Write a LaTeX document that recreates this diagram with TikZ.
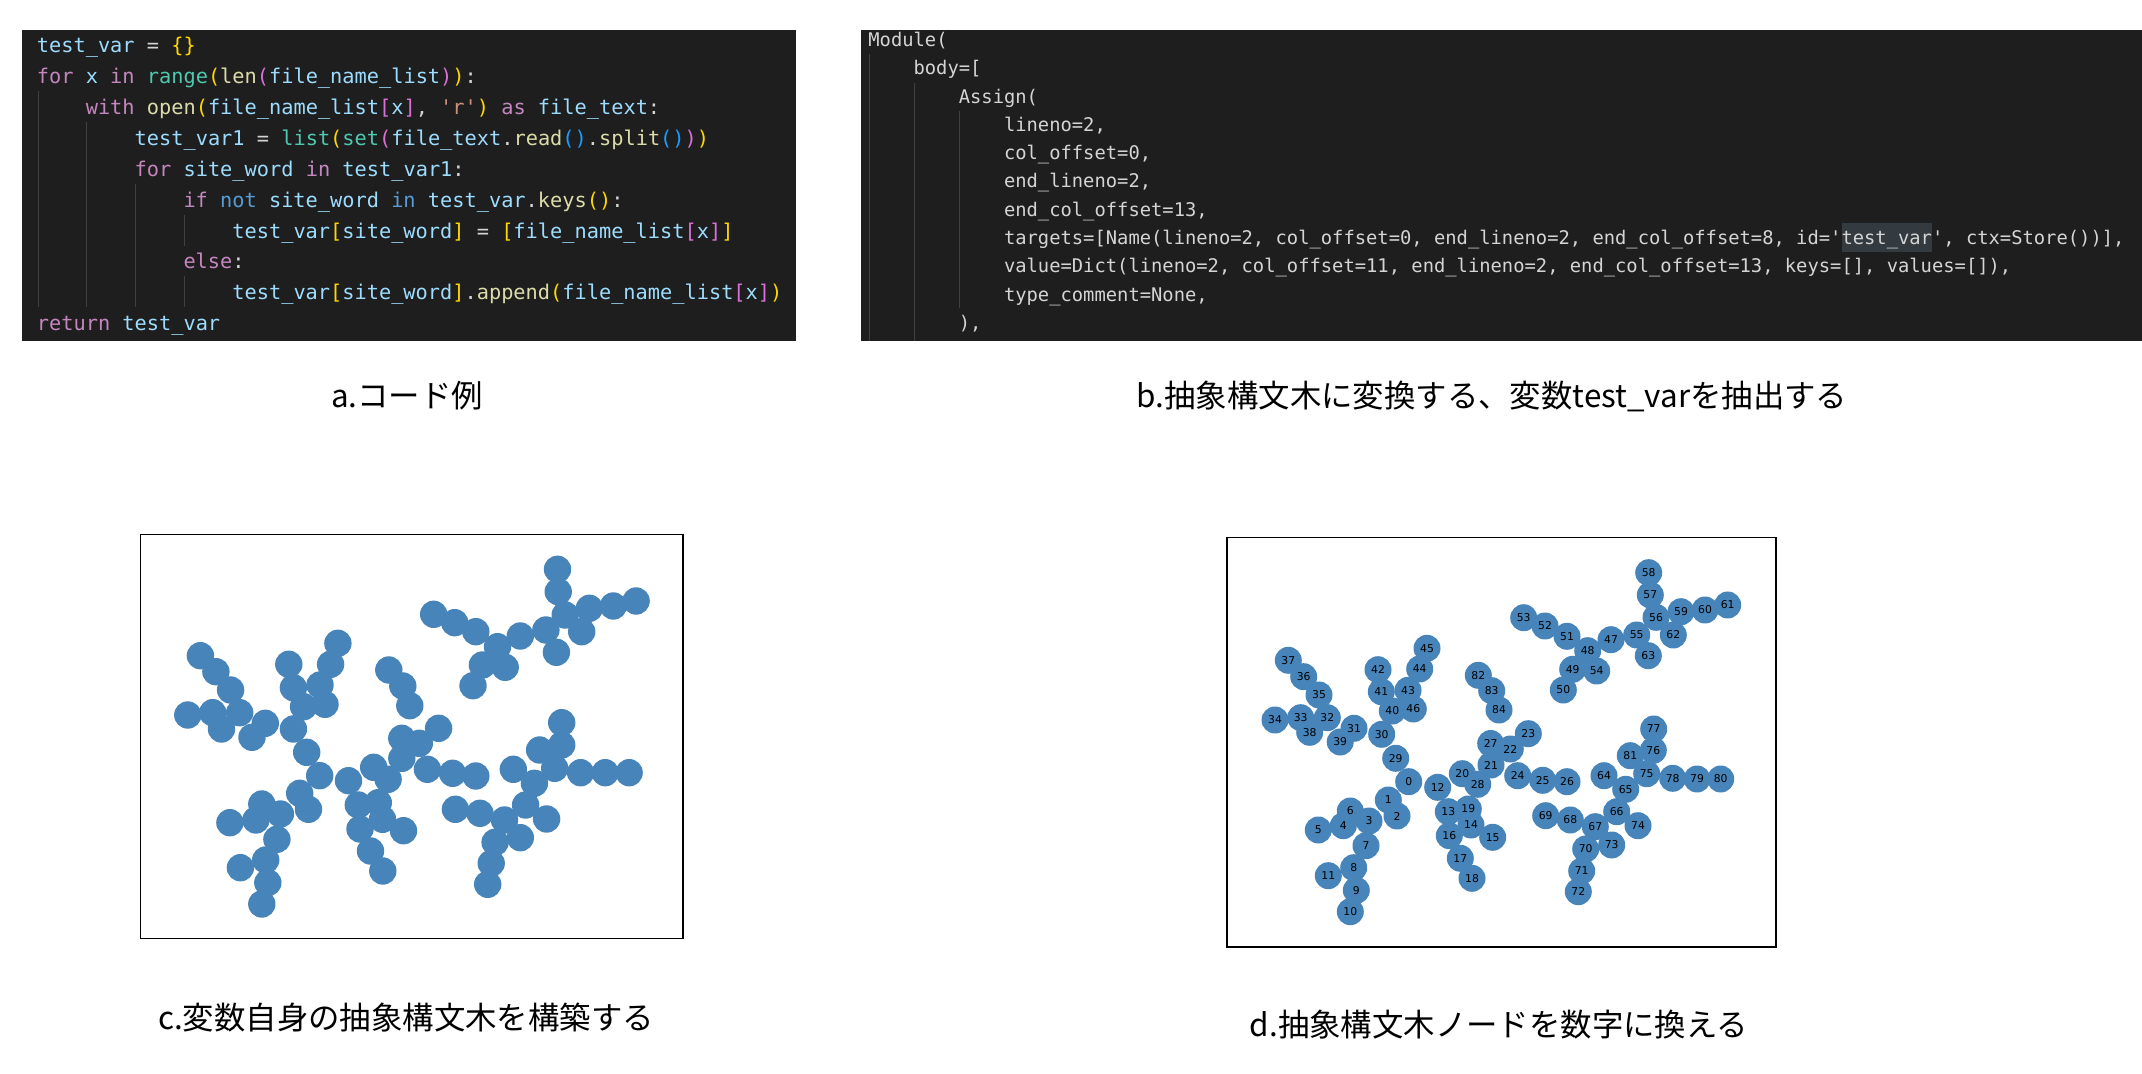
\documentclass[tikz,border=0pt]{standalone}
\usepackage{fontspec}
\setmonofont{DejaVu Sans Mono}
\newfontfamily\jpfont{Noto Sans CJK JP}
\newfontfamily\lblfont{DejaVu Sans}
\usepackage{tikz}
\usetikzlibrary{positioning}

\definecolor{codebg}{HTML}{1E1E1E}
\definecolor{codefg}{HTML}{D4D4D4}
\definecolor{colvar}{HTML}{9CDCFE}
\definecolor{colkw}{HTML}{C586C0}
\definecolor{colnot}{HTML}{569CD6}
\definecolor{colfn}{HTML}{DCDCAA}
\definecolor{colcls}{HTML}{4EC9B0}
\definecolor{colstr}{HTML}{CE9178}
\definecolor{bracketA}{HTML}{FFD700}
\definecolor{bracketB}{HTML}{DA70D6}
\definecolor{bracketC}{HTML}{179FFF}
\definecolor{guidegrey}{HTML}{404040}
\definecolor{hlgrey}{HTML}{333B41}
\definecolor{nodeblue}{HTML}{4784BA}

\newcommand{\cv}[1]{\textcolor{colvar}{#1}}
\newcommand{\ckw}[1]{\textcolor{colkw}{#1}}
\newcommand{\cnot}[1]{\textcolor{colnot}{#1}}
\newcommand{\cfn}[1]{\textcolor{colfn}{#1}}
\newcommand{\ccls}[1]{\textcolor{colcls}{#1}}
\newcommand{\cstr}[1]{\textcolor{colstr}{#1}}
\newcommand{\brA}[1]{\textcolor{bracketA}{#1}}
\newcommand{\brB}[1]{\textcolor{bracketB}{#1}}
\newcommand{\brC}[1]{\textcolor{bracketC}{#1}}

\tikzset{
    codebox/.style={fill=codebg, draw=none},
    codea/.style={anchor=base west, inner sep=0pt, text=codefg, font=\ttfamily\fontsize{10.15}{12}\selectfont},
    codeb/.style={anchor=base west, inner sep=0pt, text=codefg, font=\ttfamily\fontsize{9.4}{11}\selectfont},
    guide/.style={draw=guidegrey, line width=0.5pt},
    caption/.style={inner sep=0pt, font=\jpfont\fontsize{15.7}{18}\selectfont},
    frame/.style={draw=black, line width=0.6pt},
    cdot/.style={circle, fill=nodeblue, draw=none, inner sep=0pt, minimum size=13.7pt},
    ddot/.style={circle, fill=nodeblue, draw=none, inner sep=0pt, minimum size=13.5pt},
    dlabel/.style={inner sep=0pt, font=\lblfont\fontsize{5.4}{6}\selectfont}
}

\begin{document}
\begin{tikzpicture}[x=0.5pt, y=-0.5pt]
    \useasboundingbox (0,0) rectangle (2142,1074);

    % a. code example
    \fill[codebox] (22,30) rectangle (796,341.5);
    \draw[guide] (38,91.5) -- (38,307.5);
    \draw[guide] (86.9,122.5) -- (86.9,307.5);
    \draw[guide] (135.8,184) -- (135.8,307.5);
    \draw[guide] (184.6,215) -- (184.6,246);
    \draw[guide] (184.6,276.5) -- (184.6,307.5);
    \node[codea] (a1) at (36.5,53) {\cv{test\_var} = \brA{\{\}}};
    \node[codea] (a2) at (36.5,83.85) {\ckw{for} \cv{x} \ckw{in} \ccls{range}\brA{(}\cfn{len}\brB{(}\cv{file\_name\_list}\brB{)}\brA{)}:};
    \node[codea] (a3) at (85.4,114.7) {\ckw{with} \cfn{open}\brA{(}\cv{file\_name\_list}\brB{[}\cv{x}\brB{]}, \cstr{'r'}\brA{)} \ckw{as} \cv{file\_text}:};
    \node[codea] (a4) at (134.3,145.55) {\cv{test\_var1} = \ccls{list}\brA{(}\ccls{set}\brB{(}\cv{file\_text}.\cfn{read}\brC{()}.\cfn{split}\brC{()}\brB{)}\brA{)}};
    \node[codea] (a5) at (134.3,176.4) {\ckw{for} \cv{site\_word} \ckw{in} \cv{test\_var1}:};
    \node[codea] (a6) at (183.1,207.25) {\ckw{if} \cnot{not} \cv{site\_word} \cnot{in} \cv{test\_var}.\cfn{keys}\brA{()}:};
    \node[codea] (a7) at (232,238.1) {\cv{test\_var}\brA{[}\cv{site\_word}\brA{]} = \brA{[}\cv{file\_name\_list}\brB{[}\cv{x}\brB{]}\brA{]}};
    \node[codea] (a8) at (183.1,268.95) {\ckw{else}:};
    \node[codea] (a9) at (232,299.8) {\cv{test\_var}\brA{[}\cv{site\_word}\brA{]}.\cfn{append}\brA{(}\cv{file\_name\_list}\brB{[}\cv{x}\brB{]}\brA{)}};
    \node[codea] (a10) at (36.5,330.65) {\ckw{return} \cv{test\_var}};

    % b. abstract syntax tree dump
    \fill[codebox] (860.5,30) rectangle (2142,341.5);
    \draw[guide] (869,54) -- (869,341.5);
    \draw[guide] (914.3,83) -- (914.3,341.5);
    \draw[guide] (959.6,111) -- (959.6,308);
    \fill[hlgrey] (1841.8,223.5) rectangle (1932.2,252);
    \node[codeb] (b1) at (868,46.6) {Module(};
    \node[codeb] (b2) at (913.2,74.9) {body=[};
    \node[codeb] (b3) at (958.4,103.2) {Assign(};
    \node[codeb] (b4) at (1003.6,131.5) {lineno=2,};
    \node[codeb] (b5) at (1003.6,159.7) {col\_offset=0,};
    \node[codeb] (b6) at (1003.6,188) {end\_lineno=2,};
    \node[codeb] (b7) at (1003.6,216.3) {end\_col\_offset=13,};
    \node[codeb] (b8) at (1003.6,244.6) {targets=[Name(lineno=2, col\_offset=0, end\_lineno=2, end\_col\_offset=8, id='test\_var', ctx=Store())],};
    \node[codeb] (b9) at (1003.6,272.9) {value=Dict(lineno=2, col\_offset=11, end\_lineno=2, end\_col\_offset=13, keys=[], values=[]),};
    \node[codeb] (b10) at (1003.6,301.2) {type\_comment=None,};
    \node[codeb] (b11) at (958.4,329.5) {),};

    % c. tree of the variable
    \draw[frame] (140.7,534.5) rectangle (683,938.5);
    \foreach \x/\y [count=\i] in {557.5/569.3, 558.2/591.7, 565.2/615, 589.4/608.3, 613.3/606, 636.1/601,
        581.7/631.7, 545.9/630, 556.4/652.3, 520.3/636, 497.5/646.7, 475.8/631.7, 454.7/622.7, 433.7/614.3,
        482.4/665, 505.2/667.3, 473/685.7, 200.4/655.7, 215.9/671.7, 230.6/690, 239.7/712.7, 187.8/715,
        212.7/712.7, 221.5/729, 252/737.3, 265.3/723.3, 293.4/729, 288.8/664.3, 293.4/687.7, 303.6/706.7,
        325/704.3, 320/685, 330.6/664.3, 337.9/643.3, 306.7/752.3, 319.7/775.7, 348.5/780.7, 373.7/767.3,
        388.1/779.3, 401.8/758.3, 401.8/738.3, 419.3/743.3, 438.6/728.3, 409.8/705.7, 402.8/686, 388.8/670,
        427.4/769.3, 452.6/773.3, 475.8/776, 299.7/793.3, 308.5/809.3, 261.8/804, 280.4/814, 255.9/820,
        229.9/822.7, 276.9/839.3, 265.7/860, 240.4/867.7, 267.8/882.7, 261.8/904, 358.3/805, 378.3/802.7,
        382.5/819.3, 360/829, 403.5/830.7, 370.5/851, 382.8/871, 561.7/722.7, 561.7/745, 539.6/750,
        554.7/768.3, 580.6/772.7, 605.2/772.7, 629.1/772.7, 513.3/769.3, 534.4/783.3, 525.6/805, 546.6/819,
        455.4/809.3, 480/813.3, 504.5/820, 520.3/837.7, 495.1/842.3, 491.2/863.3, 487.7/884.3}
        \node[cdot] (c\i) at (\x,\y) {};

    % d. numbered tree nodes
    \draw[frame] (1227,537.5) rectangle (1776,947);
    \foreach \n/\x/\y in {0/1408.7/781.7, 1/1388.3/800, 2/1397/816, 3/1369/821, 4/1343.3/825.7,
        5/1318.3/830, 6/1350.3/811, 7/1366/845.7, 8/1353.7/867.7, 9/1356.3/890.3, 10/1350.3/911.7,
        11/1328.3/875.7, 12/1437.7/787.3, 13/1448.3/811.7, 14/1471/825, 15/1492.7/837.3, 16/1449.3/835.7,
        17/1460.3/858.3, 18/1472/878.3, 19/1468.3/809, 20/1462.3/773.7, 21/1491/765, 22/1510.3/749,
        23/1528.3/733.7, 24/1517.7/775.7, 25/1542.7/780.3, 26/1567/781.7, 27/1490.7/743.5, 28/1477.7/784.3,
        29/1395.7/758.3, 30/1381.7/734.3, 31/1354/728.3, 32/1327.3/717.7, 33/1300.7/717.7, 34/1275/720,
        35/1319/695, 36/1303.7/676.7, 37/1288.3/660.3, 38/1309.7/732.3, 39/1340.2/742, 40/1392.3/711,
        41/1381.3/691.7, 42/1378/669.7, 43/1408/690.3, 44/1419.7/669, 45/1427/648.3, 46/1413.3/709,
        47/1611/639.7, 48/1587.7/650.7, 49/1572.7/669.3, 50/1563.3/690, 51/1567/636.3, 52/1545/626,
        53/1523.7/617.7, 54/1596.7/671, 55/1636.7/635, 56/1656/617.3, 57/1650.3/595, 58/1648.7/572.7,
        59/1681/611.7, 60/1705/610, 61/1727.7/605, 62/1673.3/635, 63/1648.3/655.7, 64/1604/775.7,
        65/1625.7/789.3, 66/1616.7/811.7, 67/1595.3/826.7, 68/1570.3/820, 69/1545.7/815.7, 70/1585.7/849,
        71/1581.7/871, 72/1578.3/891.7, 73/1611.7/845, 74/1638/825.7, 75/1646.7/773.7, 76/1653.3/750.3,
        77/1653.7/729, 78/1672.7/778.3, 79/1697/779, 80/1720.7/779, 81/1630.3/755.7, 82/1478.3/675.3,
        83/1491.7/690.7, 84/1499/710}
        \node[ddot] (d\n) at (\x,\y) {};
    \foreach \n in {0,...,84}
        \node[dlabel] (l\n) at (d\n) {\n};

    % captions
    \node[caption] (capa) at (407,396) {a.コード例};
    \node[caption] (capb) at (1492,396) {b.抽象構文木に変換する、変数test\_varを抽出する};
    \node[caption] (capc) at (406,1018) {c.変数自身の抽象構文木を構築する};
    \node[caption] (capd) at (1499,1025) {d.抽象構文木ノードを数字に換える};
\end{tikzpicture}
\end{document}
